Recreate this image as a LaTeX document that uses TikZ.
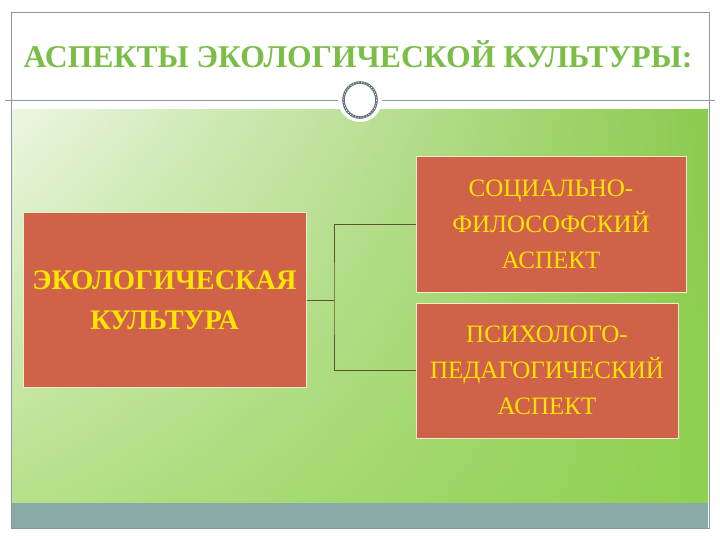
\documentclass[tikz,border=0pt]{standalone}
\usepackage{fontspec}
\usetikzlibrary{shadings}
\setmainfont{Liberation Serif}
\definecolor{titlegreen}{RGB}{122,190,72}
\definecolor{boxfill}{RGB}{208,98,74}
\definecolor{boxtext}{RGB}{255,230,0}
\definecolor{boxborder}{RGB}{240,236,200}
\definecolor{framegray}{RGB}{140,150,160}
\definecolor{bottombar}{RGB}{138,170,168}
\definecolor{connector}{RGB}{95,85,45}
\definecolor{ringgray}{RGB}{95,115,120}
\definecolor{gUL}{RGB}{236,246,226}
\definecolor{gUR}{RGB}{140,202,78}
\definecolor{gLL}{RGB}{182,224,138}
\definecolor{gLR}{RGB}{142,208,80}
\tikzset{
  box/.style={draw=boxborder, line width=1pt, fill=boxfill, text=boxtext, align=center, inner sep=0pt},
  link/.style={draw=connector, line width=0.8pt},
}
\begin{document}
\begin{tikzpicture}[x=1pt,y=-1pt]
\useasboundingbox (0,0) rectangle (720,540);
\fill[white] (0,0) rectangle (720,540);
% green area
\shade[upper left=gUL, upper right=gUR, lower left=gLL, lower right=gLR]
  (12,110) rectangle (708,503);
% bottom bar
\fill[bottombar] (12,503) rectangle (708,528);
% frame
\draw[framegray, line width=0.8pt] (11,12) rectangle (709,528);
% separator line
\draw[framegray, line width=0.9pt] (5,100) -- (715,100);
% ornament
\fill[white] (360,100) circle[radius=22];
\draw[ringgray, line width=2.6pt] (360,100) circle[x radius=16.5, y radius=17.5];
\draw[white, line width=0.8pt, dotted] (360,100) circle[x radius=16.5, y radius=17.5];
% title
\node[text=titlegreen, font=\fontsize{31.7}{38}\selectfont\bfseries] (title) at (358,54) {АСПЕКТЫ ЭКОЛОГИЧЕСКОЙ КУЛЬТУРЫ:};
% boxes
\node[box, minimum width=283, minimum height=174, font=\fontsize{28.3}{40}\selectfont\bfseries] (left) at (164.5,300) {ЭКОЛОГИЧЕСКАЯ\\КУЛЬТУРА};
\node[box, minimum width=270, minimum height=135, font=\fontsize{25}{36}\selectfont] (r1) at (551,224.5) {СОЦИАЛЬНО-\\ФИЛОСОФСКИЙ\\АСПЕКТ};
\node[box, minimum width=262, minimum height=135, font=\fontsize{25}{36}\selectfont] (r2) at (547,370.5) {ПСИХОЛОГО-\\ПЕДАГОГИЧЕСКИЙ\\АСПЕКТ};
% connectors
\coordinate (j) at (334,300);
\draw[link] (left.east) -- (j);
\draw[link] (r1.west) -| (j) |- (r2.west);
\end{tikzpicture}
\end{document}
